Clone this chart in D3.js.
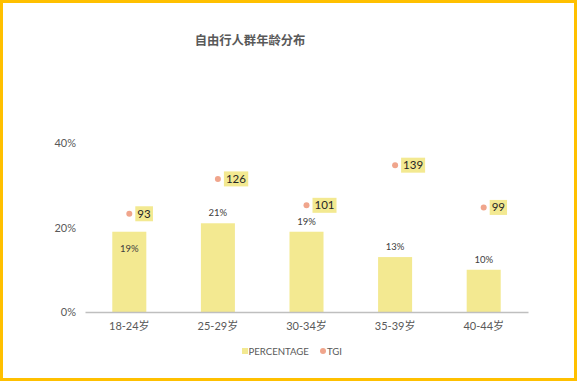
<!DOCTYPE html>
<html><head><meta charset="utf-8">
<script src="https://cdn.jsdelivr.net/npm/d3@7"></script>
<style>
html,body{margin:0;padding:0;background:#fff;}
svg{display:block;}
text{font-family:"Lato","Open Sans","Noto Sans CJK SC",sans-serif;}
</style></head>
<body><svg id="c" width="578" height="382"></svg>
<script>
const title = "自由行人群年龄分布";
const categories = ["18-24岁","25-29岁","30-34岁","35-39岁","40-44岁"];
const percentage = [0.19, 0.21, 0.19, 0.13, 0.10];
const tgi = [93, 126, 101, 139, 99];
const yTicks = [0, 0.2, 0.4];
const legendLabels = ["PERCENTAGE","TGI"];

(function(){
const W = 578, H = 382;
const svg = d3.select("#c");
svg.append("rect").attr("x",1.5).attr("y",1.5).attr("width",W-4).attr("height",H-4)
  .attr("fill","#fff").attr("stroke","#FFC000").attr("stroke-width",3);

const pLeft = 85, pRight = 528, pTop = 143, pBottom = 312;
const x = d3.scaleBand().domain(categories).range([pLeft,pRight]).paddingInner(0.616).paddingOuter(0.308);
const y = d3.scaleLinear().domain([0,0.4]).range([pBottom,pTop]);
const y2 = d3.scaleLinear().domain([0,160]).range([pBottom,pTop]);

svg.append("text").attr("x",250).attr("y",45).attr("text-anchor","middle")
  .attr("font-family","Noto Sans CJK SC").attr("font-weight","bold").attr("font-size",12.3)
  .attr("fill","#595959").text(title);

// y axis
const ya = svg.append("g").attr("transform",`translate(${pLeft},0)`)
  .call(d3.axisLeft(y).tickValues(yTicks).tickFormat(d3.format(".0%")).tickSize(0).tickPadding(9));
ya.select(".domain").remove();
ya.selectAll("text").attr("font-size",11).attr("fill","#595959").attr("font-family","Lato");

// bars
const bw = x.bandwidth();
svg.selectAll("rect.bar").data(categories).join("rect").attr("class","bar")
  .attr("x",d=>x(d)).attr("width",bw)
  .attr("y",(d,i)=>y(percentage[i])).attr("height",(d,i)=>pBottom-y(percentage[i]))
  .attr("fill","#F3E991");

// x axis
const xa = svg.append("g").attr("transform",`translate(0,${pBottom})`)
  .call(d3.axisBottom(x).tickSize(0).tickPadding(10));
xa.select(".domain").attr("stroke","#BFBFBF").attr("stroke-width",1.5);
xa.selectAll("text").attr("font-size",11).attr("fill","#595959");

// TGI dots + boxed labels
const boxH = 15;
categories.forEach((c,i)=>{
  const cx = x(c)+bw/2, cy = y2(tgi[i]);
  svg.append("circle").attr("cx",cx).attr("cy",cy).attr("r",3).attr("fill","#F0A58C");
  const g = svg.append("g");
  const r = g.append("rect").attr("fill","#F3E991");
  const t = g.append("text").attr("x",cx+8).attr("y",cy+4).attr("font-size",11.5)
    .attr("fill","#262626").text(tgi[i]);
  const bb = t.node().getBBox();
  r.attr("x",cx+6).attr("y",cy-boxH/2).attr("width",bb.width+4).attr("height",boxH);
});

// bar value labels
categories.forEach((c,i)=>{
  const cx = x(c)+bw/2, topY = y(percentage[i]);
  const boxBottom = y2(tgi[i]) + boxH/2;
  let ly = topY - 7;
  if (ly - 8 < boxBottom && Math.abs(y2(tgi[i]) - topY) < 25) ly = topY + 20;
  svg.append("text").attr("x",cx).attr("y",ly).attr("text-anchor","middle")
    .attr("font-size",9.5).attr("fill","#404040").text(d3.format(".0%")(percentage[i]));
});

// legend
const lg = svg.append("g");
lg.append("rect").attr("x",242).attr("y",348).attr("width",6).attr("height",6).attr("fill","#F3E991");
lg.append("text").attr("x",248.5).attr("y",354.5).attr("font-size",9.6).attr("fill","#595959").text(legendLabels[0]);
lg.append("circle").attr("cx",323).attr("cy",351).attr("r",3).attr("fill","#F0A58C");
lg.append("text").attr("x",327).attr("y",354.5).attr("font-size",9.6).attr("fill","#595959").text(legendLabels[1]);
})();
</script></body></html>
